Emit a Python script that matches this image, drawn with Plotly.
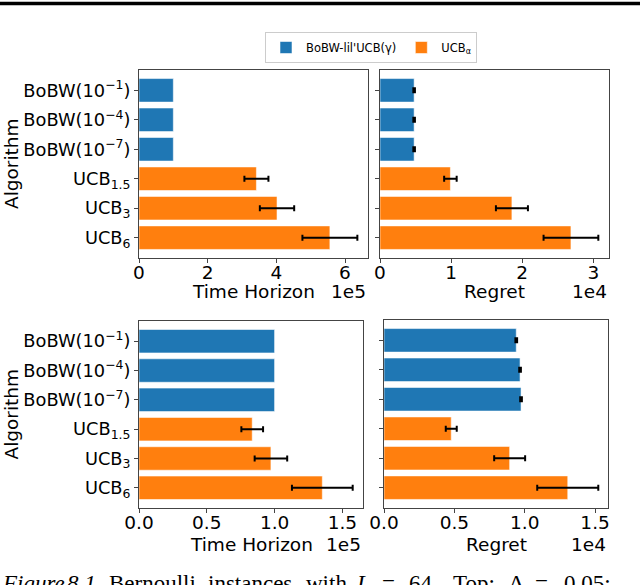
import plotly.graph_objects as go

# ---------------- data ----------------
algorithms = ["BoBW(10<sup>−1</sup>)", "BoBW(10<sup>−4</sup>)", "BoBW(10<sup>−7</sup>)",
              "UCB<sub>1.5</sub>", "UCB<sub>3</sub>", "UCB<sub>6</sub>"]
groups = ["BoBW", "BoBW", "BoBW", "UCB", "UCB", "UCB"]

top_time = [1.0e5, 1.0e5, 1.0e5, 3.42e5, 4.02e5, 5.56e5]
top_time_err = [0, 0, 0, 0.35e5, 0.50e5, 0.80e5]
top_regret = [4800, 4800, 4800, 9900, 18550, 26850]
top_regret_err = [110, 110, 110, 880, 2250, 3850]

bot_time = [1.0e5, 1.0e5, 1.0e5, 0.835e5, 0.973e5, 1.352e5]
bot_time_err = [0, 0, 0, 0.08e5, 0.12e5, 0.224e5]
bot_regret = [9400, 9670, 9740, 4780, 8930, 13060]
bot_regret_err = [60, 60, 60, 390, 1100, 2170]

legend_names = {"BoBW": "BoBW-lil'UCB(γ)", "UCB": "UCB<sub>α</sub>"}
colors = {"BoBW": "#1f77b4", "UCB": "#ff7f0e"}

caption_words = ["<i>Figure</i>", "<i>8.1</i>", "Bernoulli", "instances", "with", "<i>L</i>", "=",
                 "64.", "Top:", "Δ", "=", "0.05;"]
caption_x = [1, 66, 108, 207, 305, 355, 381, 408, 452, 508, 534, 563]

W, H = 640, 585
FONT = "DejaVu Sans"
FS = 18.5
FS_Y = 17.8

def px(x):
    return x / W

def py(y):
    return 1 - y / H

fig = go.Figure()

panels = [
    # values, errors, scale, xaxis, yaxis, x-domain px, y-domain px, range, dtick, fmt, xlabel, exp, label y
    (top_time, top_time_err, 1e5, "x", "y", (139, 368), (70, 258), 6.67, 2, "d", "Time Horizon", "1e5", 291),
    (top_regret, top_regret_err, 1e4, "x2", "y2", (380, 609), (70, 258), 3.22, 1, "d", "Regret", "1e4", 291),
    (bot_time, bot_time_err, 1e5, "x3", "y3", (139, 363), (321, 508), 1.652, 0.5, ".1f", "Time Horizon", "1e5", 544),
    (bot_regret, bot_regret_err, 1e4, "x4", "y4", (384, 608), (320, 508), 1.592, 0.5, ".1f", "Regret", "1e4", 544),
]

annotations = []
for i, (vals, errs, scale, xa, ya, xd, yd, rng, dt, fmt, xlabel, expo, label_y) in enumerate(panels):
    for g in ["BoBW", "UCB"]:
        idx = [k for k in range(len(algorithms)) if groups[k] == g]
        err_vals = [errs[k] / scale for k in idx]
        fig.add_trace(go.Bar(
            y=[algorithms[k] for k in idx],
            x=[vals[k] / scale for k in idx],
            orientation="h",
            width=0.8,
            marker=dict(color=colors[g], line=dict(color="rgba(255,255,255,0.55)", width=1)),
            error_x=dict(type="data", array=err_vals, visible=any(e > 0 for e in err_vals),
                         color="black", thickness=2, width=3),
            name=legend_names[g],
            showlegend=(i == 0),
            xaxis=xa, yaxis=ya,
        ))
    suffix = "" if i == 0 else str(i + 1)
    fig.layout["xaxis" + suffix] = dict(
        domain=[px(xd[0]), px(xd[1])], anchor=ya, range=[0, rng], dtick=dt, tick0=0,
        tickformat=fmt, showline=True, mirror=True, linecolor="#444", linewidth=1,
        ticks="outside", ticklen=4, tickcolor="#444", showgrid=False, zeroline=False,
        automargin=False, ticklabelstandoff=-6,
        tickfont=dict(family=FONT, size=FS, color="black"),
    )
    fig.layout["yaxis" + suffix] = dict(
        domain=[py(yd[1]), py(yd[0])], anchor=xa, type="category",
        categoryorder="array", categoryarray=algorithms, range=[5.69, -0.69],
        showline=True, mirror=True, linecolor="#444", linewidth=1,
        ticks="outside", ticklen=4, tickcolor="#444", showgrid=False, zeroline=False,
        showticklabels=(i % 2 == 0), automargin=False,
        tickfont=dict(family=FONT, size=FS_Y, color="black"),
    )
    annotations.append(dict(text=xlabel, x=px((xd[0] + xd[1]) / 2), y=py(label_y),
                            xref="paper", yref="paper", xanchor="center", yanchor="middle",
                            showarrow=False, font=dict(family=FONT, size=FS, color="black")))
    annotations.append(dict(text=expo, x=px(xd[1]), y=py(label_y),
                            xref="paper", yref="paper", xanchor="right", yanchor="middle",
                            showarrow=False, font=dict(family=FONT, size=FS, color="black")))
    if i % 2 == 0:
        annotations.append(dict(text="Algorithm", x=px(11), y=py((yd[0] + yd[1]) / 2),
                                xref="paper", yref="paper", xanchor="center", yanchor="middle",
                                textangle=-90, showarrow=False,
                                font=dict(family=FONT, size=FS, color="black")))

for word, wx in zip(caption_words, caption_x):
    annotations.append(dict(
        text=word, x=px(wx), y=py(569.5), xref="paper", yref="paper",
        xanchor="left", yanchor="top", showarrow=False, borderpad=0,
        font=dict(family="Liberation Serif", size=23, color="black")))

fig.update_layout(
    width=W, height=H, margin=dict(l=0, r=0, t=0, b=0),
    plot_bgcolor="white", paper_bgcolor="white",
    barmode="overlay",
    annotations=annotations,
    shapes=[dict(type="line", xref="paper", yref="paper", x0=0, x1=1,
                 y0=py(3.5), y1=py(3.5), line=dict(color="black", width=3.5))],
    legend=dict(orientation="h", x=px(265), y=py(32), xanchor="left", yanchor="top",
                bordercolor="#cccccc", borderwidth=1, bgcolor="white",
                font=dict(family=FONT, size=11.5, color="black"), itemwidth=30),
)

fig.write_html("out.html",
               config={"displayModeBar": False},
               post_script="document.body.style.margin='0px';"
                           "document.documentElement.style.overflow='hidden';")
